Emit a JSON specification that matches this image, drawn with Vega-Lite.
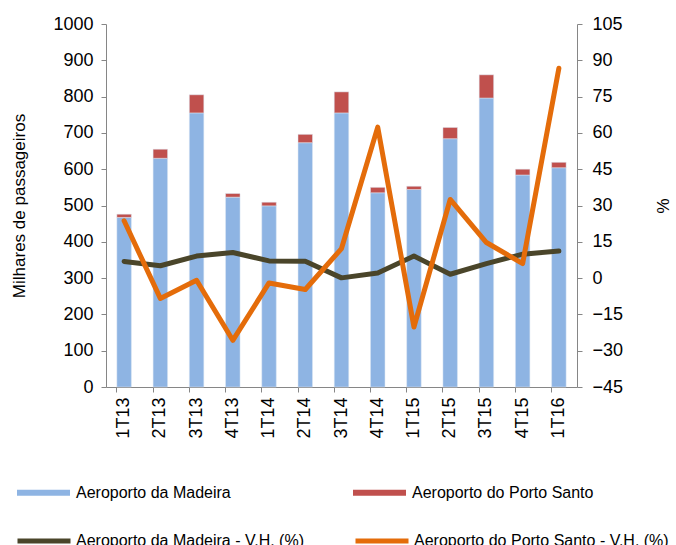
{
  "$schema": "https://vega.github.io/schema/vega-lite/v6.json",
  "width": 471,
  "height": 363,
  "autosize": {"type": "none"},
  "padding": {"left": 106, "top": 24, "right": 99, "bottom": 158},
  "config": {
    "view": {"stroke": null},
    "font": "Liberation Sans",
    "axis": {
      "domainColor": "#868686",
      "tickColor": "#868686",
      "tickSize": 5,
      "grid": false,
      "labelFont": "Liberation Sans",
      "labelFontSize": 18,
      "labelColor": "#000000",
      "titleFont": "Liberation Sans",
      "titleFontSize": 17,
      "titleFontWeight": "normal",
      "titleColor": "#000000"
    },
    "legend": {
      "labelFont": "Liberation Sans",
      "labelFontSize": 16,
      "labelColor": "#000000",
      "labelLimit": 400
    }
  },
  "datasets": {
    "passageiros": [
      {"trimestre": "1T13", "aeroporto": "Aeroporto da Madeira", "milhares": 467},
      {"trimestre": "2T13", "aeroporto": "Aeroporto da Madeira", "milhares": 630},
      {"trimestre": "3T13", "aeroporto": "Aeroporto da Madeira", "milhares": 755},
      {"trimestre": "4T13", "aeroporto": "Aeroporto da Madeira", "milhares": 523},
      {"trimestre": "1T14", "aeroporto": "Aeroporto da Madeira", "milhares": 499},
      {"trimestre": "2T14", "aeroporto": "Aeroporto da Madeira", "milhares": 673},
      {"trimestre": "3T14", "aeroporto": "Aeroporto da Madeira", "milhares": 755},
      {"trimestre": "4T14", "aeroporto": "Aeroporto da Madeira", "milhares": 535},
      {"trimestre": "1T15", "aeroporto": "Aeroporto da Madeira", "milhares": 544},
      {"trimestre": "2T15", "aeroporto": "Aeroporto da Madeira", "milhares": 684},
      {"trimestre": "3T15", "aeroporto": "Aeroporto da Madeira", "milhares": 796},
      {"trimestre": "4T15", "aeroporto": "Aeroporto da Madeira", "milhares": 584},
      {"trimestre": "1T16", "aeroporto": "Aeroporto da Madeira", "milhares": 604},
      {"trimestre": "1T13", "aeroporto": "Aeroporto do Porto Santo", "milhares": 9},
      {"trimestre": "2T13", "aeroporto": "Aeroporto do Porto Santo", "milhares": 25},
      {"trimestre": "3T13", "aeroporto": "Aeroporto do Porto Santo", "milhares": 50},
      {"trimestre": "4T13", "aeroporto": "Aeroporto do Porto Santo", "milhares": 10},
      {"trimestre": "1T14", "aeroporto": "Aeroporto do Porto Santo", "milhares": 10},
      {"trimestre": "2T14", "aeroporto": "Aeroporto do Porto Santo", "milhares": 23},
      {"trimestre": "3T14", "aeroporto": "Aeroporto do Porto Santo", "milhares": 58},
      {"trimestre": "4T14", "aeroporto": "Aeroporto do Porto Santo", "milhares": 15},
      {"trimestre": "1T15", "aeroporto": "Aeroporto do Porto Santo", "milhares": 9},
      {"trimestre": "2T15", "aeroporto": "Aeroporto do Porto Santo", "milhares": 31},
      {"trimestre": "3T15", "aeroporto": "Aeroporto do Porto Santo", "milhares": 64},
      {"trimestre": "4T15", "aeroporto": "Aeroporto do Porto Santo", "milhares": 16},
      {"trimestre": "1T16", "aeroporto": "Aeroporto do Porto Santo", "milhares": 15}
    ],
    "variacao": [
      {"trimestre": "1T13", "serie": "Aeroporto da Madeira - V.H. (%)", "vh": 6.9},
      {"trimestre": "2T13", "serie": "Aeroporto da Madeira - V.H. (%)", "vh": 5.1},
      {"trimestre": "3T13", "serie": "Aeroporto da Madeira - V.H. (%)", "vh": 9.1},
      {"trimestre": "4T13", "serie": "Aeroporto da Madeira - V.H. (%)", "vh": 10.6},
      {"trimestre": "1T14", "serie": "Aeroporto da Madeira - V.H. (%)", "vh": 7.1},
      {"trimestre": "2T14", "serie": "Aeroporto da Madeira - V.H. (%)", "vh": 7.0},
      {"trimestre": "3T14", "serie": "Aeroporto da Madeira - V.H. (%)", "vh": 0.1},
      {"trimestre": "4T14", "serie": "Aeroporto da Madeira - V.H. (%)", "vh": 2.1},
      {"trimestre": "1T15", "serie": "Aeroporto da Madeira - V.H. (%)", "vh": 9.1},
      {"trimestre": "2T15", "serie": "Aeroporto da Madeira - V.H. (%)", "vh": 1.6},
      {"trimestre": "3T15", "serie": "Aeroporto da Madeira - V.H. (%)", "vh": 6.0},
      {"trimestre": "4T15", "serie": "Aeroporto da Madeira - V.H. (%)", "vh": 9.9},
      {"trimestre": "1T16", "serie": "Aeroporto da Madeira - V.H. (%)", "vh": 11.2},
      {"trimestre": "1T13", "serie": "Aeroporto do Porto Santo - V.H. (%)", "vh": 23.7},
      {"trimestre": "2T13", "serie": "Aeroporto do Porto Santo - V.H. (%)", "vh": -8.4},
      {"trimestre": "3T13", "serie": "Aeroporto do Porto Santo - V.H. (%)", "vh": -0.9},
      {"trimestre": "4T13", "serie": "Aeroporto do Porto Santo - V.H. (%)", "vh": -25.7},
      {"trimestre": "1T14", "serie": "Aeroporto do Porto Santo - V.H. (%)", "vh": -2.0},
      {"trimestre": "2T14", "serie": "Aeroporto do Porto Santo - V.H. (%)", "vh": -4.7},
      {"trimestre": "3T14", "serie": "Aeroporto do Porto Santo - V.H. (%)", "vh": 12.2},
      {"trimestre": "4T14", "serie": "Aeroporto do Porto Santo - V.H. (%)", "vh": 62.4},
      {"trimestre": "1T15", "serie": "Aeroporto do Porto Santo - V.H. (%)", "vh": -20.2},
      {"trimestre": "2T15", "serie": "Aeroporto do Porto Santo - V.H. (%)", "vh": 32.5},
      {"trimestre": "3T15", "serie": "Aeroporto do Porto Santo - V.H. (%)", "vh": 14.7},
      {"trimestre": "4T15", "serie": "Aeroporto do Porto Santo - V.H. (%)", "vh": 6.0},
      {"trimestre": "1T16", "serie": "Aeroporto do Porto Santo - V.H. (%)", "vh": 86.7}
    ]
  },
  "encoding": {
    "x": {
      "field": "trimestre",
      "type": "nominal",
      "sort": null,
      "scale": {"paddingInner": 0.6, "paddingOuter": 0.3},
      "axis": {
        "title": null,
        "labelAngle": -90,
        "labelPadding": 5,
        "bandPosition": 0
      }
    }
  },
  "layer": [
    {
      "data": {"name": "passageiros"},
      "mark": {"type": "bar", "stroke": "#dce6f2", "strokeWidth": 0.5},
      "encoding": {
        "y": {
          "field": "milhares",
          "type": "quantitative",
          "aggregate": "sum",
          "stack": "zero",
          "scale": {"domain": [0, 1000], "nice": false},
          "axis": {
            "title": "Milhares de passageiros",
            "values": [0, 100, 200, 300, 400, 500, 600, 700, 800, 900, 1000],
            "format": "d",
            "labelPadding": 8,
            "titlePadding": 24
          }
        },
        "color": {
          "field": "aeroporto",
          "type": "nominal",
          "scale": {
            "domain": ["Aeroporto da Madeira", "Aeroporto do Porto Santo"],
            "range": ["#8EB4E3", "#C0504D"]
          },
          "legend": {
            "title": null,
            "orient": "none",
            "legendX": -89,
            "legendY": 442,
            "direction": "horizontal",
            "columns": 2,
            "columnPadding": 122,
            "symbolType": "M-1,-0.113H1V0.113H-1Z",
            "symbolSize": 2809,
            "symbolStrokeWidth": 0,
            "symbolOpacity": 1,
            "labelOffset": 6
          }
        },
        "order": {"field": "aeroporto", "sort": "ascending"}
      }
    },
    {
      "data": {"name": "variacao"},
      "mark": {"type": "line", "strokeWidth": 5, "strokeJoin": "round", "strokeCap": "round"},
      "encoding": {
        "y": {
          "field": "vh",
          "type": "quantitative",
          "scale": {"domain": [-45, 105], "nice": false, "zero": false},
          "axis": {
            "title": "%",
            "orient": "right",
            "values": [-45, -30, -15, 0, 15, 30, 45, 60, 75, 90, 105],
            "labelPadding": 10,
            "titlePadding": 30
          }
        },
        "stroke": {
          "field": "serie",
          "type": "nominal",
          "scale": {
            "domain": ["Aeroporto da Madeira - V.H. (%)", "Aeroporto do Porto Santo - V.H. (%)"],
            "range": ["#4A452A", "#E46C0A"]
          },
          "legend": {
            "title": null,
            "orient": "none",
            "legendX": -91,
            "legendY": 488,
            "direction": "horizontal",
            "columns": 2,
            "columnPadding": 41,
            "symbolType": "stroke",
            "symbolSize": 2809,
            "symbolStrokeWidth": 5,
            "labelOffset": 3
          }
        }
      }
    }
  ],
  "resolve": {"scale": {"y": "independent"}}
}
